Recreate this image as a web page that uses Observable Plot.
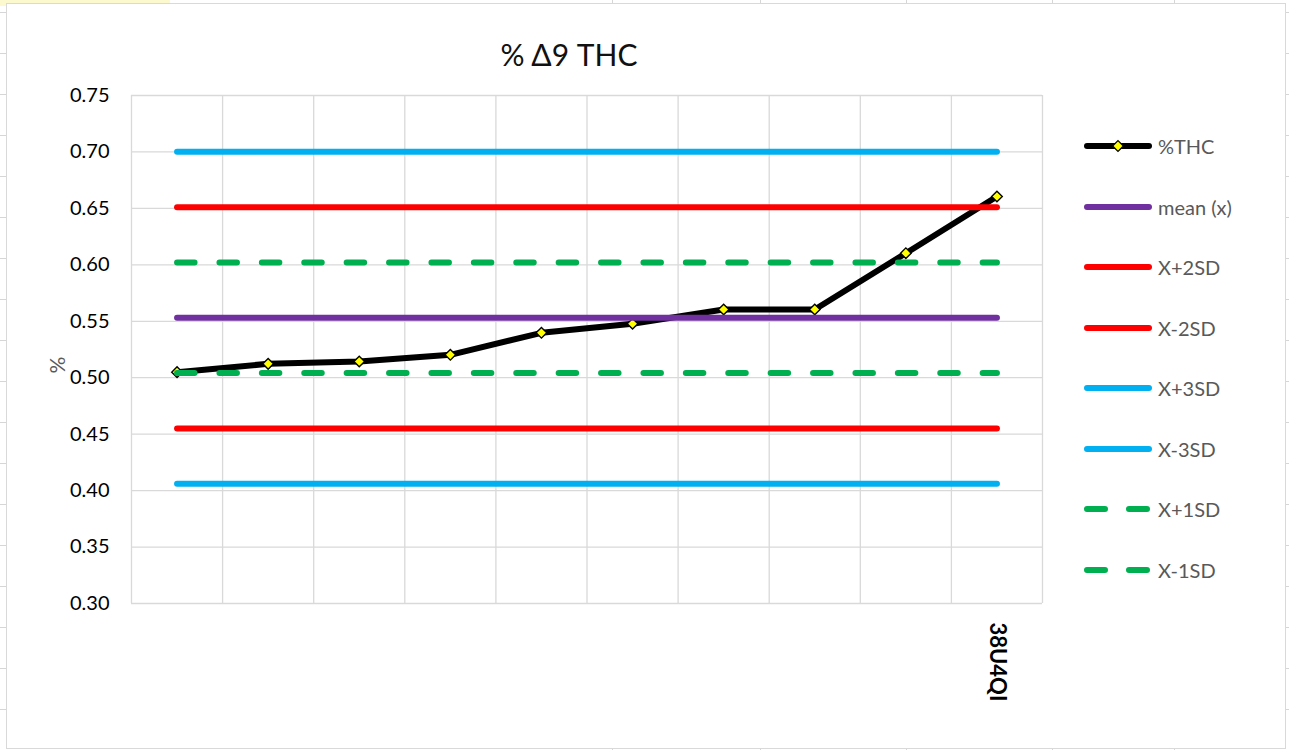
<!DOCTYPE html>
<html><head><meta charset="utf-8">
<script src="https://cdn.jsdelivr.net/npm/d3@7"></script>
<script src="https://cdn.jsdelivr.net/npm/@observablehq/plot@0.6"></script>
<style>
html,body{margin:0;padding:0;}
body{width:1289px;height:750px;position:relative;overflow:hidden;background-color:#fff;
  background-image:linear-gradient(#d6d6d6 1px, transparent 1px);background-size:100% 41px;background-position:0 12px;}
.col{position:absolute;top:0;height:750px;width:1px;background:#d6d6d6;}
#yellow{position:absolute;left:0;top:0;width:170px;height:6px;background:#fdf9cf;}
#chart{position:absolute;left:6px;top:3px;width:1278px;height:744px;background:#fff;border:1px solid #d9d9d9;}
#plot{position:absolute;left:0;top:0;}
#title{position:absolute;left:0;width:1138px;top:36px;line-height:36px;text-align:center;font-family:Lato;font-size:30px;color:#111;}
#ylabel{position:absolute;left:37px;top:353px;width:40px;line-height:24px;text-align:center;font-family:Lato;font-size:21px;color:#595959;transform:rotate(-90deg);}
.item{position:absolute;left:1082px;height:24px;}
.item svg{position:absolute;left:0;top:0;}
.item span{position:absolute;left:76px;top:0;line-height:24px;white-space:nowrap;font-family:Lato;font-size:20px;color:#595959;}
</style></head>
<body>
<div id="yellow"></div>
<div class="col" style="left:612px"></div>
<div class="col" style="left:760px"></div>
<div class="col" style="left:906px"></div>
<div class="col" style="left:1052px"></div>
<div class="col" style="left:1174px"></div>
<div id="chart"></div>
<div id="plot"></div>
<div id="title">% Δ9 THC</div>
<div id="ylabel">%</div>
<div id="legend"></div>
<script>
// ---- data ----
const categories = ["", "", "", "", "", "", "", "", "", "38U4QI"];
const thcValues = [0.5049, 0.5123, 0.5144, 0.5203, 0.5398, 0.5478, 0.5604, 0.5604, 0.6103, 0.6605];
const seriesName = "%THC";
const limitNames = ["mean (x)", "X+2SD", "X-2SD", "X+3SD", "X-3SD", "X+1SD", "X-1SD"];
const limitValues = [0.5531, 0.6511, 0.4551, 0.7001, 0.4061, 0.6021, 0.5041];
const yTicks = [0.30, 0.35, 0.40, 0.45, 0.50, 0.55, 0.60, 0.65, 0.70, 0.75];

// ---- styles ----
const limitColors = {"mean (x)":"#7030a0","X+2SD":"#ff0000","X-2SD":"#ff0000","X+3SD":"#00b0f0","X-3SD":"#00b0f0","X+1SD":"#00b050","X-1SD":"#00b050"};
const limitDashed = {"X+1SD":true,"X-1SD":true};
const LW = 6;

const n = categories.length;
const thcRows = thcValues.map((v, i) => ({x: i + 0.5, v}));
const limitMarks = limitNames.map((name, k) =>
  Plot.line(categories.map((c, i) => ({x: i + 0.5, v: limitValues[k]})), {
    x: "x", y: "v", stroke: limitColors[name], strokeWidth: LW, strokeLinecap: "round",
    ...(limitDashed[name] ? {strokeDasharray: "17.5,24.9"} : {})
  })
);

const chart = Plot.plot({
  width: 1289, height: 750,
  marginLeft: 131, marginRight: 247, marginTop: 95, marginBottom: 147,
  style: {background: "transparent", fontFamily: "Lato", color: "#000", overflow: "visible"},
  x: {type: "linear", domain: [0, n]},
  y: {domain: [0.30, 0.75]},
  marks: [
    Plot.ruleY(yTicks, {x1: 0, x2: n, stroke: "#d9d9d9", strokeWidth: 1.3}),
    Plot.ruleX(d3.range(n + 1), {y1: 0.30, y2: 0.75, stroke: "#d9d9d9", strokeWidth: 1.3}),
    Plot.axisY(yTicks, {tickFormat: d3.format(".2f"), tickSize: 0, tickPadding: 22, fontSize: 20, label: null}),
    Plot.axisX(categories.map((c, i) => i + 0.5), {tickFormat: d => categories[Math.floor(d)], tickSize: 0, tickPadding: 19, tickRotate: 90, fontSize: 22, fontWeight: "bold", label: null}),
    Plot.line(thcRows, {x: "x", y: "v", stroke: "#000", strokeWidth: LW, strokeLinejoin: "round", strokeLinecap: "round"}),
    Plot.dot(thcRows, {x: "x", y: "v", symbol: "diamond2", r: 4.8, fill: "#ffff00", stroke: "#000", strokeWidth: 1.4}),
    ...limitMarks
  ]
});
document.getElementById("plot").appendChild(chart);

// ---- legend ----
const legend = document.getElementById("legend");
const legendNames = [seriesName, ...limitNames];
legendNames.forEach((name, k) => {
  const cy = 146 + k * 60.5;
  const div = document.createElement("div");
  div.className = "item";
  div.style.top = (cy - 12) + "px";
  const color = name === seriesName ? "#000" : limitColors[name];
  const dash = limitDashed[name] ? ' stroke-dasharray="18,24"' : "";
  let svg = `<svg width="72" height="24"><line x1="5" y1="12" x2="67" y2="12" stroke="${color}" stroke-width="${LW}" stroke-linecap="round"${dash}/>`;
  if (name === seriesName) svg += `<path d="M36,6.6L41.4,12L36,17.4L30.6,12Z" fill="#ffff00" stroke="#000" stroke-width="1.3"/>`;
  svg += `</svg>`;
  div.innerHTML = svg + `<span>${name}</span>`;
  legend.appendChild(div);
});
</script>
</body></html>
